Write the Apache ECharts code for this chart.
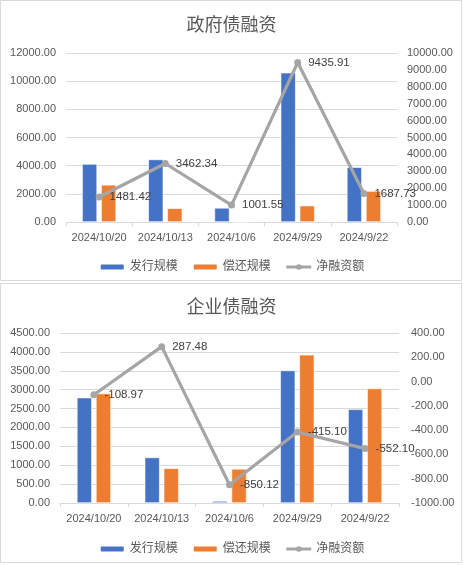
<!DOCTYPE html>
<html>
<head>
<meta charset="utf-8">
<script src="https://cdn.jsdelivr.net/npm/echarts@6/dist/echarts.min.js"></script>
<style>
html,body{margin:0;padding:0;background:#fff;}
#c{width:463px;height:565px;}
</style>
</head>
<body>
<div id="c"></div>
<script>
const categories = ['2024/10/20','2024/10/13','2024/10/6','2024/9/29','2024/9/22'];
const seriesNames = ['发行规模','偿还规模','净融资额'];
const govIssue = [4120, 4440, 1002, 10600, 3890];
const govRepay = [2640, 978, 0, 1164, 2200];
const govNet = [1481.42, 3462.34, 1001.55, 9435.91, 1687.73];
const corpIssue = [2790, 1205, 53, 3508, 2480];
const corpRepay = [2899, 918, 903, 3923, 3032];
const corpNet = [-108.97, 287.48, -850.12, -415.10, -552.10];
const titles = ['政府债融资','企业债融资'];

const FONT = '"Liberation Sans","Noto Sans CJK SC",sans-serif';
const BLUE = '#4472C4', ORANGE = '#ED7D31', GRAY = '#A5A5A5';
const fmt = v => Number(v).toFixed(2);

const chart = echarts.init(document.getElementById('c'), null, {renderer:'canvas'});

function xAxis(gi){
  return {
    type:'category', gridIndex:gi, data:categories,
    axisLine:{lineStyle:{color:'#d9d9d9'}},
    axisTick:{show:true, length:4, interval:0, lineStyle:{color:'#d9d9d9'}},
    axisLabel:{color:'#595959', fontSize:11, fontFamily:FONT, margin:10, interval:0, hideOverlap:false}
  };
}
function yLeft(gi,max,interval){
  return {
    type:'value', gridIndex:gi, min:0, max:max, interval:interval,
    axisLine:{show:false}, axisTick:{show:false},
    splitLine:{lineStyle:{color:'#d9d9d9'}},
    axisLabel:{color:'#595959', fontSize:11, fontFamily:FONT, margin:10, formatter:fmt}
  };
}
function yRight(gi,min,max,interval,margin){
  return {
    type:'value', gridIndex:gi, position:'right', min:min, max:max, interval:interval,
    axisLine:{show:false}, axisTick:{show:false}, splitLine:{show:false},
    axisLabel:{color:'#595959', fontSize:11, fontFamily:FONT, margin:margin, formatter:fmt}
  };
}
function bars(name,data,color,xi,yi){
  return {
    name:name, type:'bar', xAxisIndex:xi, yAxisIndex:yi, data:data,
    barWidth:15, barGap:'27%',
    itemStyle:{color:color, borderColor:'#fff', borderWidth:0.6}
  };
}
function line(data,xi,yi){
  return {
    name:seriesNames[2], type:'line', xAxisIndex:xi, yAxisIndex:yi, data:data,
    symbol:'circle', symbolSize:7,
    lineStyle:{color:GRAY, width:3.2}, itemStyle:{color:GRAY},
    label:{show:true, position:'right', distance:7, color:'#404040', fontSize:11.5, fontFamily:FONT, formatter:p=>fmt(p.value)},
    z:5
  };
}
function legend(top){
  return {
    top:top, left:'center', itemWidth:25, itemHeight:7, itemGap:14,
    data:[
      {name:seriesNames[0]},
      {name:seriesNames[1]},
      {name:seriesNames[2], lineStyle:{width:3, color:GRAY}, itemStyle:{color:GRAY}}
    ],
    textStyle:{color:'#595959', fontSize:12, fontFamily:FONT}
  };
}

chart.setOption({
  backgroundColor:'#fff',
  animation:false,
  graphic:[
    {type:'rect', shape:{x:0.5,y:0.5,width:461,height:280}, style:{fill:'none', stroke:'#d9d9d9', lineWidth:1}, silent:true},
    {type:'rect', shape:{x:0.5,y:283.5,width:461,height:279}, style:{fill:'none', stroke:'#d9d9d9', lineWidth:1}, silent:true}
  ],
  title:[
    {text:titles[0], left:'center', top:12, textStyle:{color:'#595959', fontSize:18, fontWeight:'normal', fontFamily:FONT}},
    {text:titles[1], left:'center', top:294, textStyle:{color:'#595959', fontSize:18, fontWeight:'normal', fontFamily:FONT}}
  ],
  legend:[legend(256), legend(538)],
  grid:[
    {left:66, right:66, top:53, height:169},
    {left:60, right:64, top:333, height:170}
  ],
  xAxis:[xAxis(0), xAxis(1)],
  yAxis:[
    yLeft(0,12000,2000), yRight(0,0,10000,1000,10),
    yLeft(1,4500,500), yRight(1,-1000,400,200,12)
  ],
  series:[
    bars(seriesNames[0],govIssue,BLUE,0,0),
    bars(seriesNames[1],govRepay,ORANGE,0,0),
    line(govNet,0,1),
    bars(seriesNames[0],corpIssue,BLUE,1,2),
    bars(seriesNames[1],corpRepay,ORANGE,1,2),
    line(corpNet,1,3)
  ]
});
</script>
</body>
</html>
